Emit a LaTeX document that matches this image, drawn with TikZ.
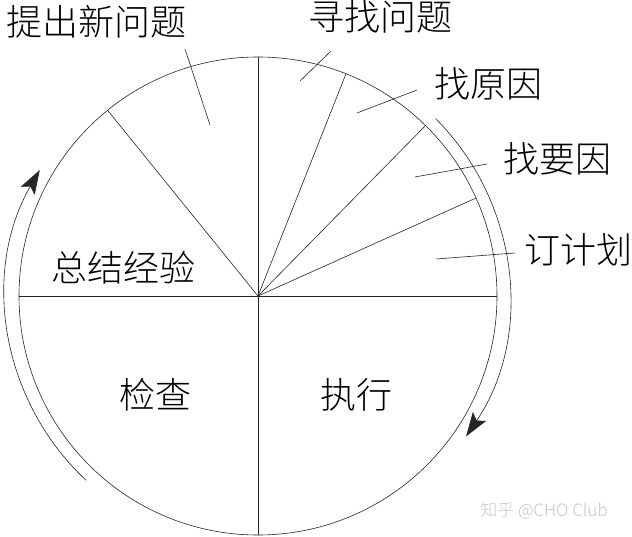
\documentclass[tikz,border=0pt]{standalone}
\usepackage{fontspec}
\newfontfamily\cjk{Noto Sans CJK SC Light}
\usetikzlibrary{arrows.meta}
\begin{document}
\begin{tikzpicture}[x=1pt,y=1pt,
  thinline/.style={line width=0.6pt,black!85},
  lab/.style={font=\cjk\fontsize{36}{36}\selectfont,inner sep=0pt},
  cyc/.style={line width=0.6pt,black!85,-{Stealth[length=24pt,width=16pt,inset=5pt]}}]
\useasboundingbox (0,0) rectangle (632,536);
\fill[white] (0,0) rectangle (632,536);
\coordinate (C) at (258,240);
\draw[thinline] (C) circle[radius=239];
\foreach \a in {0,24.2,45.5,68.4,90,129,180,270}{
  \draw[thinline] (C) -- ++(\a:239);
}
% outer cycle arcs
\draw[cyc] (C) ++(45:251) arc[start angle=45,end angle=-34,radius=251];
\draw[cyc] (C) ++(227:252) arc[start angle=227,end angle=150,radius=252];
% labels
\node[lab] (tc) at (96,514) {提出新问题};
\node[lab] (xz) at (380,519) {寻找问题};
\node[lab] (zy) at (488,452) {找原因};
\node[lab] (zyy) at (557,377) {找要因};
\node[lab] (dj) at (578,286) {订计划};
\node[lab] (zj) at (123,268) {总结经验};
\node[lab] (jc) at (155,141) {检查};
\node[lab] (zx) at (356,141) {执行};
\node[font=\cjk\fontsize{17}{17}\selectfont,text=black!22,inner sep=0pt] (wm) at (544,25) {知乎 @CHO Club};
% leaders
\coordinate (a1) at (185,487); \coordinate (a2) at (210,411);
\coordinate (b1) at (331,485); \coordinate (b2) at (300,455);
\coordinate (c1) at (417,446); \coordinate (c2) at (357,423);
\coordinate (d1) at (487,372); \coordinate (d2) at (415,359);
\coordinate (e1) at (515,283); \coordinate (e2) at (436,277);
\draw[thinline] (a1) -- (a2);
\draw[thinline] (b1) -- (b2);
\draw[thinline] (c1) -- (c2);
\draw[thinline] (d1) -- (d2);
\draw[thinline] (e1) -- (e2);
\end{tikzpicture}
\end{document}
